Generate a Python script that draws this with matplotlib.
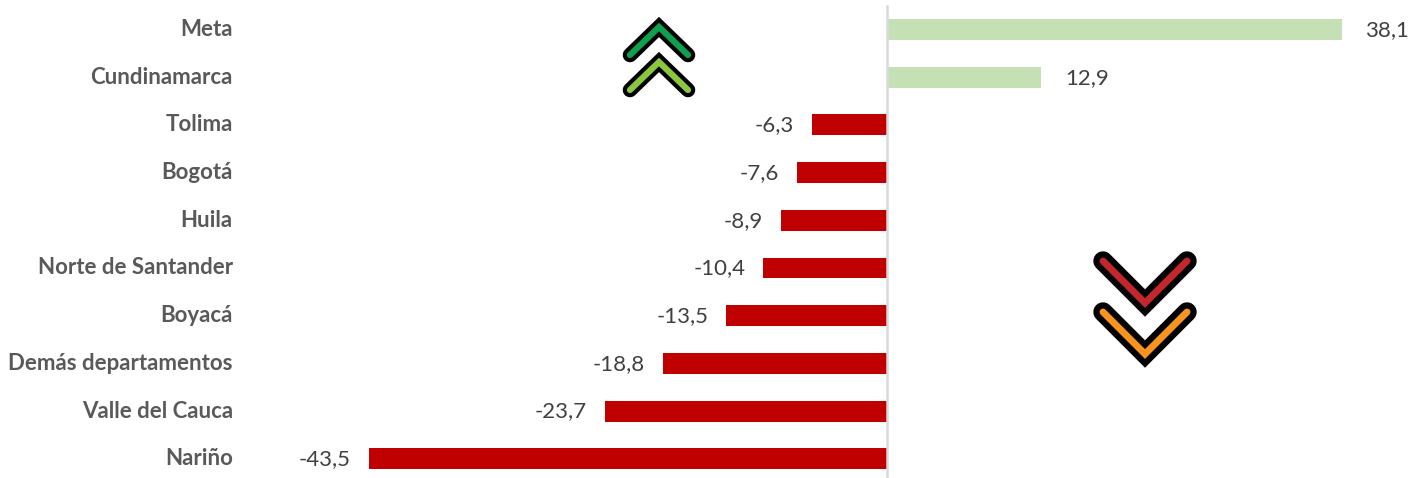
import matplotlib
matplotlib.use("Agg")
import matplotlib.pyplot as plt
from matplotlib.transforms import ScaledTranslation

departamentos = ["Meta", "Cundinamarca", "Tolima", "Bogotá", "Huila", "Norte de Santander",
                 "Boyacá", "Demás departamentos", "Valle del Cauca", "Nariño"]
valores = [38.1, 12.9, -6.3, -7.6, -8.9, -10.4, -13.5, -18.8, -23.7, -43.5]

plt.rcParams["font.family"] = ["Lato", "DejaVu Sans"]

W, H = 1424, 478
fig = plt.figure(figsize=(W / 100, H / 100), dpi=100)

# eje principal, alineado en pixeles con la referencia
left = 240
ax = fig.add_axes([left / W, 0, (W - left) / W, 1])
esc = 11.92
cero = 887.4
ax.set_xlim((left - cero) / esc, (W - cero) / esc)
fila0, paso = 29.5, 47.7
ax.set_ylim((H - fila0) / paso, -fila0 / paso)

pos = list(range(len(valores)))
colores = ["#C5E0B4" if v > 0 else "#C00000" for v in valores]
ax.barh(pos, valores, height=0.44, color=colores, zorder=2)

for y, v in zip(pos, valores):
    txt = f"{v:.1f}".replace(".", ",")
    if v > 0:
        ax.annotate(txt, (v, y), xytext=(17.2, -0.3), textcoords="offset points",
                    ha="left", va="center", fontsize=16, color="#404040")
    else:
        ax.annotate(txt, (v, y), xytext=(-13, -0.3), textcoords="offset points",
                    ha="right", va="center", fontsize=16, color="#404040")

ax.set_yticks(pos)
ax.set_yticklabels(departamentos, fontsize=16, fontweight="bold", color="#595959")
ax.tick_params(axis="y", length=0, pad=5.2)
sube = ScaledTranslation(0, 2 / 100, fig.dpi_scale_trans)
for lab in ax.get_yticklabels():
    lab.set_transform(lab.get_transform() + sube)
ax.set_xticks([])
for s in ax.spines.values():
    s.set_visible(False)

# linea del cero
ax.plot([0, 0], [(6 - fila0) / paso, (H - fila0) / paso], color="#D9D9D9", lw=1.8, zorder=3, clip_on=False)

# flechas decorativas en coordenadas de pixel
over = fig.add_axes([0, 0, 1, 1])
over.set_xlim(0, W)
over.set_ylim(H, 0)
over.axis("off")

def chevron(xs, ys, color, ancho_negro, ancho_color):
    over.plot(xs, ys, color="black", lw=ancho_negro, solid_capstyle="round", solid_joinstyle="miter")
    over.plot(xs, ys, color=color, lw=ancho_color, solid_capstyle="round", solid_joinstyle="miter")

chevron([630, 659, 688], [55, 27, 55], "#0E9F4F", 10.5, 4.5)
chevron([630, 659, 688], [90, 62, 90], "#8CC63F", 10.5, 4.5)
chevron([1103, 1145, 1187], [261, 303, 261], "#C1272D", 14, 5)
chevron([1103, 1145, 1187], [312, 354, 312], "#F7931E", 14, 5)

fig.savefig("out.png", dpi=100)
